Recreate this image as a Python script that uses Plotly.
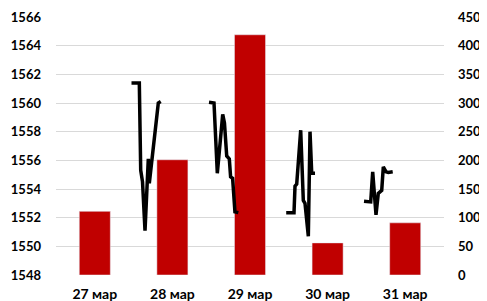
import plotly.graph_objects as go

# Categories and bar values (right axis)
days = ["27 мар", "28 мар", "29 мар", "30 мар", "31 мар"]
volumes = [111, 201, 419, 56, 91]

# Intraday price series (left axis): hour of day and price, per day index
d28_hours = [10.15, 12.57, 13.0, 13.56, 14.33, 15.35, 15.66, 18.44, 19.19]
d28_price = [1561.4, 1561.4, 1555.3, 1554.5, 1551.1, 1556.1, 1554.4, 1560.0, 1560.1]
d29_hours = [10.12, 11.67, 12.69, 14.36, 14.9, 15.6, 16.4, 16.8, 17.42, 18.14, 19.19]
d29_price = [1560.05, 1560.0, 1555.1, 1559.2, 1558.6, 1556.3, 1556.1, 1554.85, 1554.75, 1552.4, 1552.35]
d30_hours = [10.0, 12.41, 12.72, 13.25, 14.48, 15.29, 15.81, 16.84, 17.36, 17.89, 18.91]
d30_price = [1552.35, 1552.35, 1554.2, 1554.35, 1558.1, 1553.2, 1553.0, 1550.7, 1558.0, 1555.1, 1555.1]
d31_hours = [10.06, 12.13, 12.75, 13.77, 14.48, 15.54, 16.03, 16.87, 17.58, 18.94]
d31_price = [1553.15, 1553.1, 1555.2, 1552.2, 1553.7, 1553.9, 1555.55, 1555.2, 1555.15, 1555.2]

segments = [(1, d28_hours, d28_price), (2, d29_hours, d29_price),
            (3, d30_hours, d30_price), (4, d31_hours, d31_price)]

line_x, line_y = [], []
for di, hrs, prs in segments:
    line_x += [di * 24 + h for h in hrs] + [None]
    line_y += list(prs) + [None]

fam = "Lato, 'Open Sans', sans-serif"

fig = go.Figure()
fig.add_trace(go.Bar(x=list(range(len(days))), y=volumes, marker_color="#C00000",
                     width=0.4, xaxis="x", yaxis="y", showlegend=False))
fig.add_trace(go.Scatter(x=line_x, y=line_y, mode="lines", xaxis="x2", yaxis="y2",
                         line=dict(color="#000000", width=3.5), connectgaps=False,
                         showlegend=False))

fig.update_layout(
    width=479, height=293,
    margin=dict(l=48, r=43, t=9, b=26),
    paper_bgcolor="white", plot_bgcolor="white",
    font=dict(family=fam, size=13, color="#000000"),
    xaxis=dict(range=[-0.5, 4.5], tickvals=list(range(len(days))), ticktext=days,
               showgrid=False, zeroline=False, showline=False, ticks="",
               ticklabelstandoff=9, automargin=False,
               tickfont=dict(family=fam, size=14, weight="bold")),
    xaxis2=dict(range=[10.8, 130.8], overlaying="x", visible=False, automargin=False),
    yaxis=dict(range=[0, 450], dtick=50, side="right", showgrid=True, gridcolor="#d9d9d9",
               gridwidth=1, zeroline=False, showline=False, ticks="", ticklabelstandoff=13,
               automargin=False,
               tickfont=dict(family=fam, size=13, weight="bold")),
    yaxis2=dict(range=[1548, 1566], dtick=2, overlaying="y", side="left", showgrid=False,
                zeroline=False, showline=False, ticks="", ticklabelstandoff=14,
                automargin=False,
                tickfont=dict(family=fam, size=13, weight="bold")),
)

fig.write_html("out.html")
